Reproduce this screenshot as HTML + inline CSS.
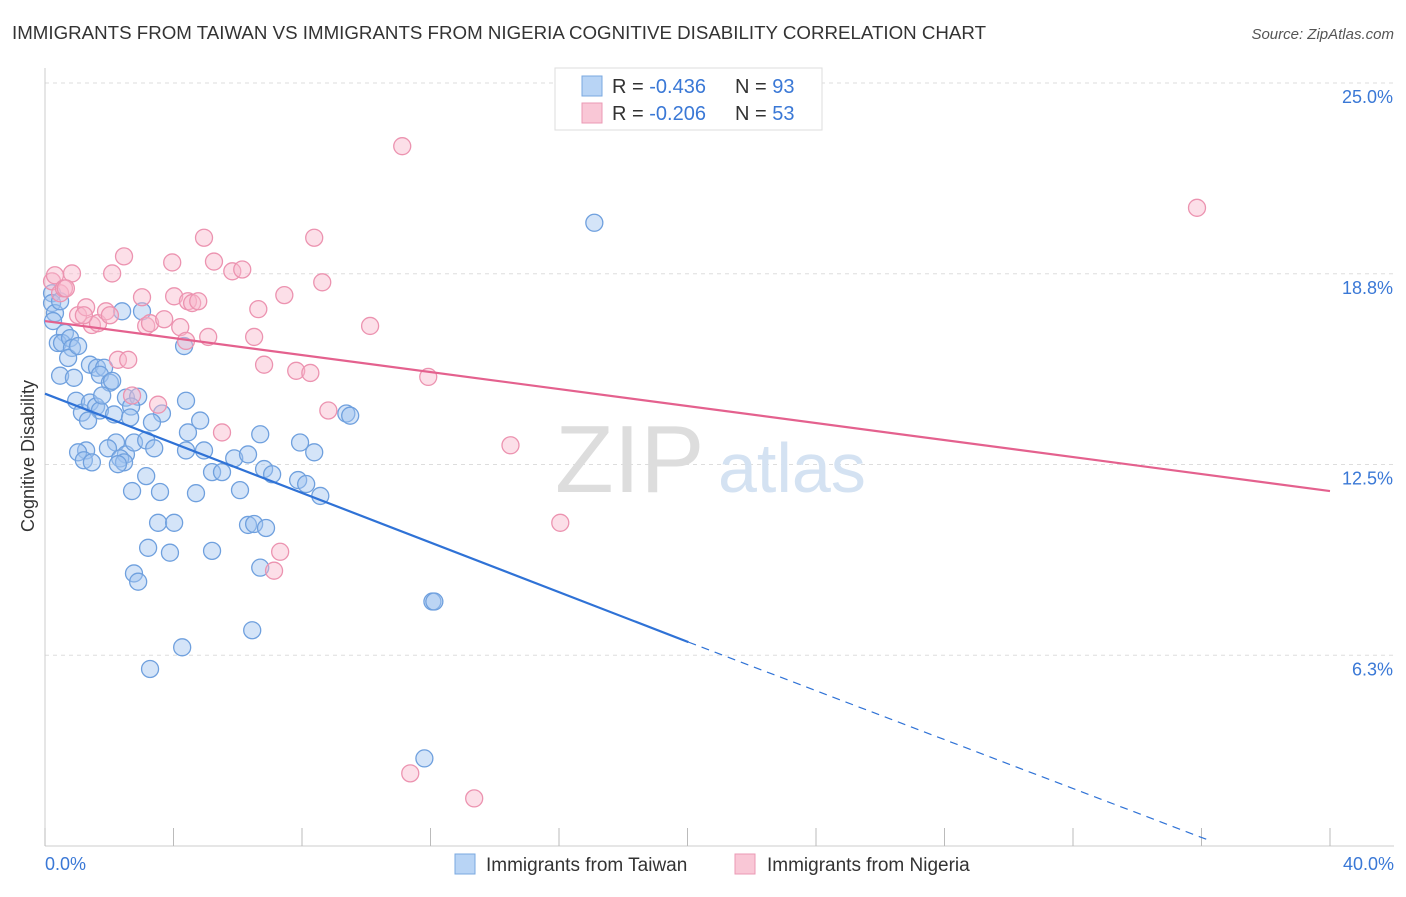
<!DOCTYPE html>
<html><head><meta charset="utf-8"><style>
body{margin:0;background:#fff;font-family:"Liberation Sans",sans-serif}
svg text{font-family:"Liberation Sans",sans-serif}
</style></head><body>
<svg id="chart" width="1406" height="892" viewBox="0 0 1406 892" xmlns="http://www.w3.org/2000/svg">
<text x="12" y="39" font-size="18" fill="#333" textLength="974" lengthAdjust="spacingAndGlyphs">IMMIGRANTS FROM TAIWAN VS IMMIGRANTS FROM NIGERIA COGNITIVE DISABILITY CORRELATION CHART</text>
<text x="1394" y="39" font-size="15" fill="#555" text-anchor="end" font-style="italic">Source: ZipAtlas.com</text>
<g id="grid"></g>
<text x="555" y="492" font-size="96" fill="#ddd" font-family="Liberation Serif">ZIP</text>
<text x="718" y="492" font-size="70" fill="#d4e2f2">atlas</text>
<g id="marks"></g>
<text x="34" y="456" font-size="18" fill="#333" transform="rotate(-90 34 456)" text-anchor="middle">Cognitive Disability</text>
<text x="45" y="870" font-size="18" fill="#3a78d6">0.0%</text>
<text x="1394" y="870" font-size="18" fill="#3a78d6" text-anchor="end">40.0%</text>
<g>
<rect x="555" y="68" width="267" height="62" fill="#fff" stroke="#ddd"/>
<rect x="582" y="76" width="20" height="20" fill="#b8d4f5" stroke="#7aa8e0"/>
<rect x="582" y="103" width="20" height="20" fill="#f9c7d6" stroke="#eb9ab4"/>
<text x="612" y="93" font-size="20" fill="#333">R = <tspan fill="#3a78d6">-0.436</tspan></text>
<text x="735" y="93" font-size="20" fill="#333">N = <tspan fill="#3a78d6">93</tspan></text>
<text x="612" y="120" font-size="20" fill="#333">R = <tspan fill="#3a78d6">-0.206</tspan></text>
<text x="735" y="120" font-size="20" fill="#333">N = <tspan fill="#3a78d6">53</tspan></text>
</g>
<g>
<rect x="455" y="854" width="20" height="20" fill="#b8d4f5" stroke="#7aa8e0"/>
<text x="486" y="871" font-size="19" fill="#333">Immigrants from Taiwan</text>
<rect x="735" y="854" width="20" height="20" fill="#f9c7d6" stroke="#eb9ab4"/>
<text x="767" y="871" font-size="19" fill="#333">Immigrants from Nigeria</text>
</g>
</svg>
<script>
const yTicks=[25,18.75,12.5,6.25];
const yTickLabels=["25.0%","18.8%","12.5%","6.3%"];
const xTicks=[0,4,8,12,16,20,24,28,32,36,40];
const taiwanX=[0.22,0.22,0.31,0.25,0.47,0.62,0.40,0.53,0.78,0.84,0.72,1.03,0.47,0.90,1.40,1.62,1.84,1.71,2.02,2.09,0.97,1.15,1.40,1.59,1.71,1.34,2.15,1.78,2.52,2.90,2.40,3.02,2.68,3.64,3.33,2.65,2.21,1.96,2.52,2.34,2.46,2.27,2.77,3.15,3.40,1.28,1.03,1.21,1.46,4.39,4.45,4.83,4.39,4.95,5.20,5.51,5.89,6.07,6.32,6.70,6.82,7.07,7.94,8.38,7.88,8.13,8.57,9.38,9.50,4.33,3.15,2.71,3.58,4.70,3.52,4.02,3.21,3.89,5.20,6.32,6.51,6.88,6.70,2.77,2.90,12.06,12.12,6.45,4.27,3.27,11.81,17.10];
const taiwanY=[18.11,17.79,17.46,17.2,17.85,16.81,16.48,16.48,16.64,16.32,15.99,16.38,15.41,15.34,15.77,15.67,15.67,15.44,15.18,15.24,14.59,14.20,14.53,14.40,14.27,13.94,14.14,14.76,14.69,14.72,17.52,17.52,14.40,14.17,13.88,14.04,13.22,13.03,12.83,12.70,12.57,12.51,13.22,13.29,13.03,12.96,12.90,12.64,12.57,14.59,13.55,13.94,12.96,12.96,12.25,12.25,12.70,11.66,12.83,13.49,12.35,12.18,13.22,12.90,11.99,11.86,11.47,14.17,14.10,16.38,12.12,11.63,11.60,11.56,10.59,10.59,9.77,9.61,9.67,10.52,10.55,10.42,9.12,8.93,8.66,8.01,8.01,7.07,6.51,5.80,2.87,20.42];
const nigeriaX=[0.22,0.31,0.47,0.59,0.84,0.65,1.03,1.28,1.46,1.65,1.90,2.02,1.21,2.09,2.27,2.59,2.46,2.71,3.02,3.15,3.27,3.52,3.71,3.96,4.02,4.21,4.45,4.58,4.77,4.39,5.08,4.95,5.26,5.51,5.83,6.14,6.51,6.64,6.82,7.45,7.82,8.26,8.38,8.63,8.82,10.12,11.12,11.93,14.49,16.04,7.32,7.13,11.37,13.36,35.86];
const nigeriaY=[18.5,18.7,18.11,18.27,18.76,18.27,17.39,17.65,17.07,17.13,17.52,17.39,17.39,18.76,15.93,15.93,19.32,14.76,17.98,17.04,17.13,14.46,17.26,19.12,18.01,17.0,17.85,17.79,17.85,16.55,16.68,19.93,19.15,13.55,18.83,18.89,16.68,17.59,15.77,18.05,15.57,15.50,19.93,18.47,14.27,17.04,22.93,15.37,13.13,10.59,9.64,9.02,2.38,1.56,20.91];
const taiwanTrend=[14.82,6.68,0.2];
const taiwanTrendX=[0,20.03,36.2];
const nigeriaTrend=[17.2,11.63];
const nigeriaTrendX=[0,40];

const X0=45,X1=1330,Y0=846,YTOP=83;
const sx=v=>X0+(X1-X0)*v/40;
const sy=v=>Y0-(Y0-YTOP)*v/25;
const NS="http://www.w3.org/2000/svg";
function mk(tag,attrs,parent){const e=document.createElementNS(NS,tag);for(const k in attrs)e.setAttribute(k,attrs[k]);parent.appendChild(e);return e;}
const grid=document.getElementById('grid'),marks=document.getElementById('marks');
yTicks.forEach((t,i)=>{
  const l=mk('line',{x1:X0,x2:1394,y1:sy(t),y2:sy(t),stroke:'#ddd','stroke-dasharray':'4,4'},grid);
  
  
  const tx=mk('text',{x:1393,y:sy(t)+20,'font-size':18,fill:'#3a78d6','text-anchor':'end'},grid);
  tx.textContent=yTickLabels[i];
  
  
});
const ax=mk('line',{x1:X0,x2:1394,y1:Y0,y2:Y0,stroke:'#ccc'},grid);


const ay=mk('line',{x1:X0,x2:X0,y1:68,y2:Y0,stroke:'#ccc'},grid);


xTicks.forEach(t=>{
  const l=mk('line',{x1:sx(t),x2:sx(t),y1:828,y2:Y0,stroke:'#bbb'},grid);
  
  
});
taiwanX.forEach((v,i)=>{
  const c=mk('circle',{cx:sx(v),cy:sy(taiwanY[i]),r:8.5,fill:'rgba(160,196,240,0.45)',stroke:'#6fa0de','stroke-width':1.3},marks);
  
  
});
nigeriaX.forEach((v,i)=>{
  const c=mk('circle',{cx:sx(v),cy:sy(nigeriaY[i]),r:8.5,fill:'rgba(248,185,205,0.45)',stroke:'#ec93b0','stroke-width':1.3},marks);
  
  
});
const t1=mk('line',{x1:sx(taiwanTrendX[0]),y1:sy(taiwanTrend[0]),x2:sx(taiwanTrendX[1]),y2:sy(taiwanTrend[1]),stroke:'#2f72d6','stroke-width':2.2},marks);


const t2=mk('line',{x1:sx(taiwanTrendX[1]),y1:sy(taiwanTrend[1]),x2:sx(taiwanTrendX[2]),y2:sy(taiwanTrend[2]),stroke:'#2f72d6','stroke-width':1.2,'stroke-dasharray':'8,6'},marks);


const t3=mk('line',{x1:sx(nigeriaTrendX[0]),y1:sy(nigeriaTrend[0]),x2:sx(nigeriaTrendX[1]),y2:sy(nigeriaTrend[1]),stroke:'#e4618e','stroke-width':2.2},marks);


</script>
</body></html>
